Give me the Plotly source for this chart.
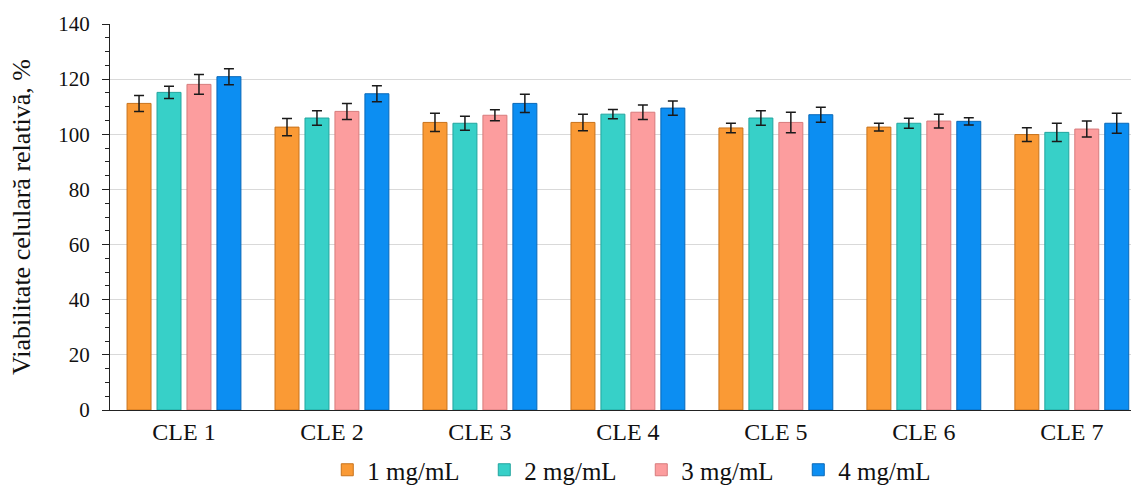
import plotly.graph_objects as go

categories = ["CLE 1", "CLE 2", "CLE 3", "CLE 4", "CLE 5", "CLE 6", "CLE 7"]
series_names = ["1 mg/mL", "2 mg/mL", "3 mg/mL", "4 mg/mL"]

v1 = [111.2, 102.6, 104.3, 104.3, 102.3, 102.6, 99.9]
v2 = [115.2, 105.9, 104.0, 107.3, 105.9, 104.0, 100.7]
v3 = [118.1, 108.3, 106.9, 108.0, 104.3, 104.8, 101.9]
v4 = [120.9, 114.7, 111.2, 109.5, 107.1, 104.7, 104.0]

e1 = [2.9, 3.1, 3.3, 3.0, 1.7, 1.4, 2.5]
e2 = [2.2, 2.6, 2.5, 1.7, 2.6, 1.8, 3.3]
e3 = [3.6, 2.9, 2.0, 2.6, 3.7, 2.5, 2.9]
e4 = [2.9, 2.9, 3.3, 2.6, 2.7, 1.3, 3.6]

values = [v1, v2, v3, v4]
errors = [e1, e2, e3, e4]
fills = ["#FA9A35", "#37D0C8", "#FC9D9E", "#0C8EF2"]
edges = ["#C8731C", "#22A59E", "#D77B7C", "#0868B8"]

serif = "Liberation Serif, Times New Roman, serif"

fig = go.Figure()
for name, vals, errs, fc, ec in zip(series_names, values, errors, fills, edges):
    fig.add_trace(go.Bar(
        name=name,
        x=categories,
        y=vals,
        marker=dict(color=fc, line=dict(color=ec, width=1)),
        error_y=dict(type="data", array=errs, visible=True,
                     color="#1a1a1a", thickness=1.5, width=5),
    ))

fig.update_layout(
    width=1131, height=493,
    margin=dict(l=110, r=0, t=24, b=83, autoexpand=False),
    paper_bgcolor="white", plot_bgcolor="white",
    barmode="group", bargap=0.19, bargroupgap=0.2,
    font=dict(family=serif, size=21, color="#111111"),
    showlegend=True,
    legend=dict(orientation="h", xref="container", yref="container",
                x=0.567, xanchor="center", y=0.0, yanchor="bottom",
                font=dict(size=25), itemwidth=30, traceorder="normal",
                entrywidth=112, entrywidthmode="pixels",
                tracegroupgap=0, bgcolor="rgba(0,0,0,0)"),
)

fig.update_xaxes(
    type="category",
    range=[-0.5, 6.4],
    showline=True, linecolor="#222222", linewidth=1,
    ticks="", showgrid=False,
    tickfont=dict(size=24),
)

fig.update_yaxes(
    range=[0, 140], dtick=20,
    showline=True, linecolor="#222222", linewidth=1,
    ticks="outside", ticklen=7, tickcolor="#222222",
    ticklabelstandoff=8,
    minor=dict(dtick=5, ticks="outside", ticklen=4, tickcolor="#222222", showgrid=False),
    showgrid=True, gridcolor="#D9D9D9", gridwidth=1,
    zeroline=False,
    tickfont=dict(size=21),
    title=dict(text="Viabilitate celulară relativă, %", font=dict(size=26), standoff=20),
)

fig.write_html("out.html")
